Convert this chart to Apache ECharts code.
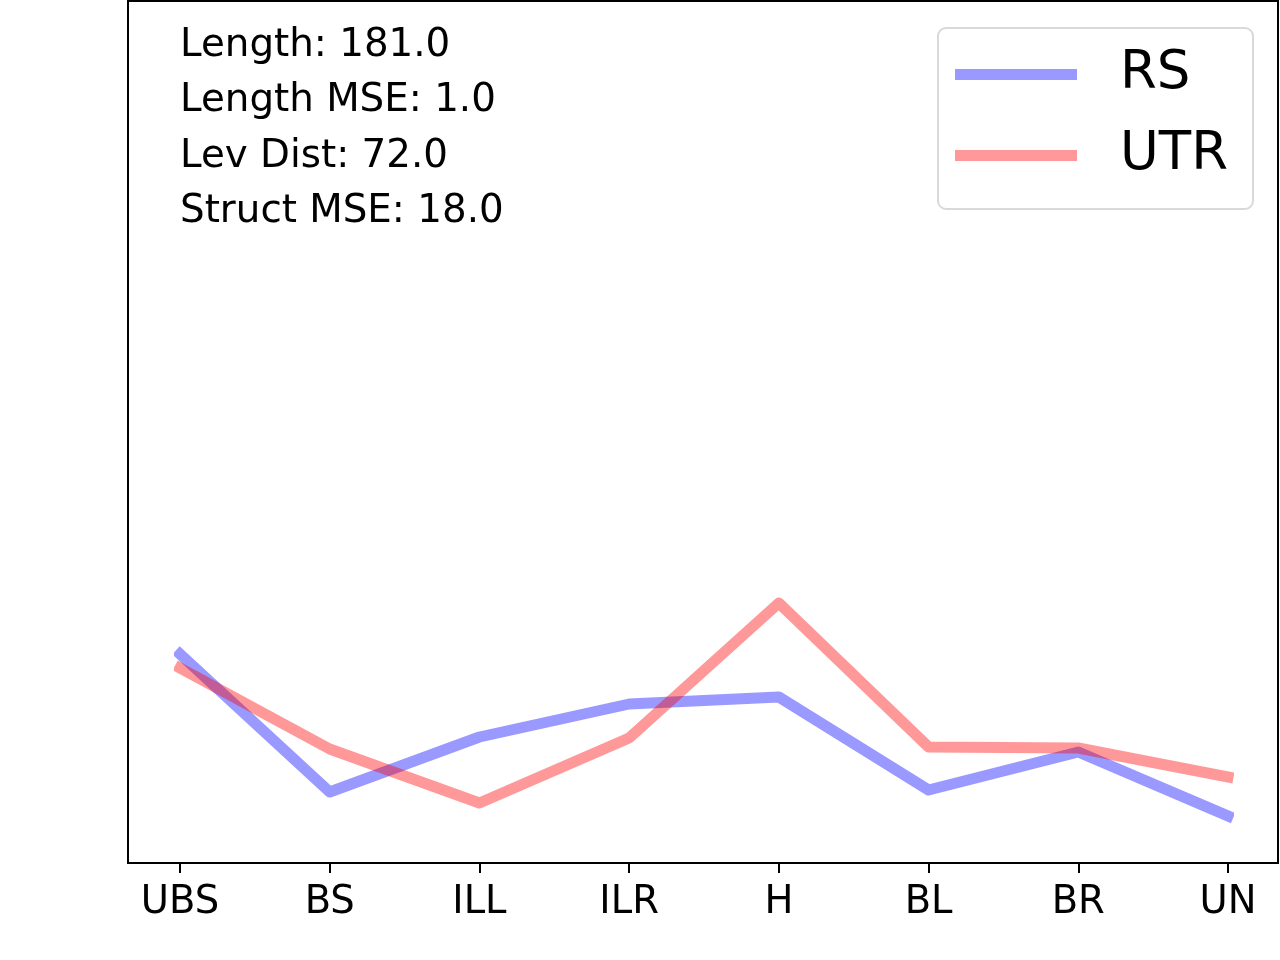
<!DOCTYPE html>
<html>
<head>
<meta charset="utf-8">
<script src="https://cdn.jsdelivr.net/npm/echarts@6/dist/echarts.min.js"></script>
<style>html,body{margin:0;padding:0;background:#fff;}#c{width:1280px;height:960px;}</style>
</head>
<body>
<div id="c"></div>
<script>
const categories = ['UBS', 'BS', 'ILL', 'ILR', 'H', 'BL', 'BR', 'UN'];
const rsValues = [209, 71, 126, 159, 166, 73, 111, 47];
const utrValues = [195, 114, 60, 125, 260, 116, 115, 86];
const annotations = ['Length: 181.0', 'Length MSE: 1.0', 'Lev Dist: 72.0', 'Struct MSE: 18.0'];
const seriesNames = ['RS', 'UTR'];

const FONT = 'DejaVu Sans';
const chart = echarts.init(document.getElementById('c'), null, {renderer: 'canvas'});

chart.setOption({
  animation: false,
  backgroundColor: '#fff',
  grid: [
    {left: 128, right: 2, top: 1, bottom: 97, show: true, borderColor: '#000', borderWidth: 2, backgroundColor: 'transparent'},
    {left: 180, right: 52, top: 1, bottom: 97}
  ],
  xAxis: [
    {type: 'value', gridIndex: 0, min: 0, max: 1, show: false},
    {
      type: 'category', gridIndex: 1, data: categories, boundaryGap: false,
      axisLine: {show: false},
      axisTick: {show: true, alignWithLabel: true, length: 10, lineStyle: {color: '#000', width: 2}},
      axisLabel: {show: true, interval: 0, color: '#000', fontFamily: FONT, fontSize: 38.5, margin: 20},
      splitLine: {show: false}
    }
  ],
  yAxis: [
    {type: 'value', gridIndex: 0, min: 0, max: 1, show: false},
    {type: 'value', gridIndex: 1, min: 0, max: 862, show: false}
  ],
  legend: {
    right: 27, top: 28, orient: 'vertical', align: 'left',
    padding: [20, 25, 27, 17],
    itemWidth: 122, itemHeight: 11, itemGap: 28,
    icon: 'rect',
    backgroundColor: '#fff', borderColor: '#d9d9d9', borderWidth: 2, borderRadius: 8,
    data: [
      {name: seriesNames[0], itemStyle: {color: '#9999ff', opacity: 1}},
      {name: seriesNames[1], itemStyle: {color: '#ff9999', opacity: 1}}
    ],
    formatter: n => '{a|' + n + '}',
    textStyle: {rich: {a: {fontFamily: FONT, fontSize: 53, color: '#000', lineHeight: 60, padding: [0, 0, 0, 38]}}}
  },
  graphic: [{
    type: 'text', left: 180, top: 18,
    style: {text: annotations.join('\n'), fontFamily: FONT, fontSize: 38.8, lineHeight: 55.4, fill: '#000'}
  }],
  series: [
    {name: seriesNames[0], type: 'line', xAxisIndex: 1, yAxisIndex: 1, data: rsValues, showSymbol: false, symbol: 'none',
      lineStyle: {color: '#0000ff', opacity: 0.4, width: 11, cap: 'square', join: 'round'},
      itemStyle: {color: '#9999ff'}},
    {name: seriesNames[1], type: 'line', xAxisIndex: 1, yAxisIndex: 1, data: utrValues, showSymbol: false, symbol: 'none',
      lineStyle: {color: '#ff0000', opacity: 0.4, width: 11, cap: 'square', join: 'round'},
      itemStyle: {color: '#ff9999'}}
  ]
});
</script>
</body>
</html>
